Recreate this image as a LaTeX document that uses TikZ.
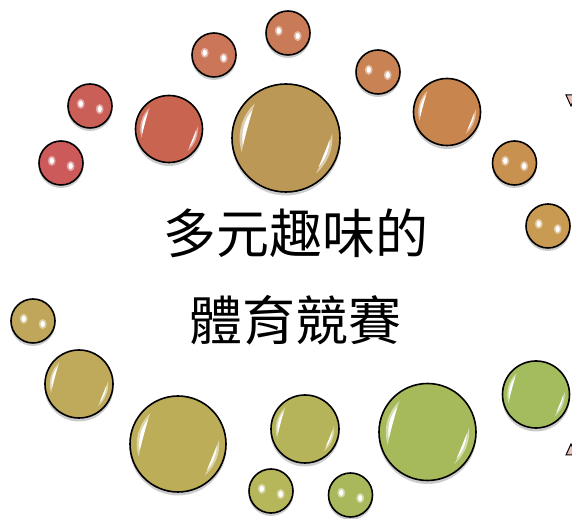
\documentclass[tikz,border=0pt]{standalone}
\usepackage{fontspec}
\newfontfamily\cjk{Noto Sans CJK TC}
\usepackage{tikz}
\usetikzlibrary{calc}

\definecolor{ballc}{HTML}{CD5A5A}
\definecolor{tippink}{HTML}{F0C0BC}
\pgfdeclareradialshading[ballc]{glassball}{\pgfpoint{0bp}{0bp}}{color(0bp)=(ballc); color(32bp)=(ballc); color(44bp)=(ballc!84!white); color(50bp)=(ballc!58!white)}

\tikzset{
  ballcol/.code={\definecolor{ballc}{HTML}{#1}},
  bubble/.style={circle, draw=black, line width=1.6bp, inner sep=0pt, minimum size=#1*2bp, shade, shading=glassball},
  shine/.style={white, opacity=#1},
  arrowtip/.style={draw=black, line width=1bp, fill=tippink},
  titletext/.style={font=\cjk\fontsize{53bp}{60bp}\selectfont}
}

\begin{document}
\begin{tikzpicture}[x=1bp,y=1bp]
  \clip (0,0) rectangle (572,519);

  \foreach \n/\x/\y/\r/\c in {a/61/356/22/CD5A5A, b/90/413/22/CA5F58, d/214/464/22/CB7659,
      f/288/486/22/C97A56, g/378/447/22/C98253, i/514.5/356/22/C8914F, j/548/293/22/C89A52,
      k/33/198/22/C0A65A, o/271/28/22/B6B65A, p/350.5/24/22/AAB85C}{
    \fill[black, opacity=.2] (\x,\y-2.5) circle (\r+0.5);
    \node[bubble=\r, ballcol=\c] (\n) at (\x,\y) {};
    \fill[shine=.45] ($(\n)+(-0.42*\r,0.1*\r)$) ellipse [x radius=0.18*\r, y radius=0.23*\r];
    \fill[shine=1] ($(\n)+(-0.42*\r,0.1*\r)$) ellipse [x radius=0.1*\r, y radius=0.14*\r];
    \fill[shine=.45] ($(\n)+(0.44*\r,-0.14*\r)$) ellipse [x radius=0.18*\r, y radius=0.23*\r];
    \fill[shine=1] ($(\n)+(0.44*\r,-0.14*\r)$) ellipse [x radius=0.1*\r, y radius=0.14*\r];
  }

  \foreach \n/\x/\y/\r/\c in {c/169/390/33.5/C8644F, h/447/407/33.5/C8864E, e/286/381/54/BC9856,
      l/79/135/34/BFA95A, m/178/75/48/BCAD58, n/305/90/34/B6B45A,
      q/427.5/87/48.5/A6BA5C, r/536/124.5/33.5/A2BC5E}{
    \fill[black, opacity=.2] (\x,\y-3) circle (\r+0.5);
    \node[bubble=\r, ballcol=\c] (\n) at (\x,\y) {};
    \fill[shine=.5] ($(\n)+(132:0.86*\r)$) arc[start angle=132, end angle=198, radius=0.86*\r]
      to[bend left=6] ($(\n)+(132:0.86*\r)$) -- cycle;
    \fill[shine=1] ($(\n)+(140:0.81*\r)$) arc[start angle=140, end angle=190, radius=0.81*\r]
      to[bend left=1] ($(\n)+(140:0.81*\r)$) -- cycle;
    \fill[shine=.5] ($(\n)+(-50:0.86*\r)$) arc[start angle=-50, end angle=6, radius=0.86*\r]
      to[bend left=6] ($(\n)+(-50:0.86*\r)$) -- cycle;
    \fill[shine=1] ($(\n)+(-42:0.81*\r)$) arc[start angle=-42, end angle=-2, radius=0.81*\r]
      to[bend left=1] ($(\n)+(-42:0.81*\r)$) -- cycle;
  }

  \draw[arrowtip] (566,424) -- (576,424) -- (571,413) -- cycle;
  \draw[arrowtip] (571,75) -- (576,64) -- (566,64) -- cycle;

  \node[titletext] (title) at (295.5,286) {多元趣味的};
  \node[titletext] (subtitle) at (295,199) {體育競賽};
\end{tikzpicture}
\end{document}
